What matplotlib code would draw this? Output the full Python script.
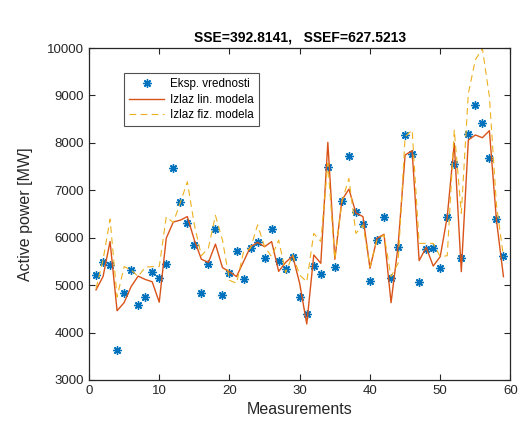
import numpy as np
import matplotlib
matplotlib.use("Agg")
import matplotlib.pyplot as plt

plt.rcParams['font.family'] = ['Liberation Sans', 'DejaVu Sans']

measurements = list(range(1, 60))

eksp = [5214, 5495, 5425, 3633, 4827, 5319, 4582, 4757, 5284, 5144,
        5439, 7477, 6759, 6303, 5846, 4841, 5439, 6177, 4792, 5263,
        5720, 5130, 5776, 5910, 5573, 6177, 5509, 5334, 5600, 4757,
        4392, 5411, 5229, 7498, 5376, 6781, 7723, 6549, 6282, 5094,
        5952, 6430, 5158, 5811, 8166, 7758, 5073, 5762, 5790, 5368,
        6430, 7554, 5566, 8180, 8798, 8412, 7688, 6388, 5615]

lin_model = [4900, 5180, 5920, 4460, 4630, 4970, 5190, 5120, 5070, 4640,
             5990, 6330, 6370, 6445, 5950, 5545, 5480, 5865, 5370, 5280,
             5180, 5495, 5810, 5900, 5810, 5917, 5290, 5480, 5615, 5030,
             4180, 5636, 5460, 8010, 5545, 6790, 7025, 6520, 6445, 5355,
             5986, 6072, 4630, 5825, 7744, 7836, 5516, 5797, 5403, 5600,
             6445, 7990, 5284, 8060, 8166, 8109, 8257, 6374, 5178]

fiz_model = [4930, 5530, 6390, 4750, 5390, 5320, 5180, 5380, 5390, 5390,
             6440, 6320, 6740, 7180, 6270, 5620, 5780, 6470, 5950, 5100,
             5040, 5700, 5780, 6270, 5810, 5600, 5950, 5260, 5640, 5210,
             5070, 6090, 5920, 7570, 5550, 6760, 7250, 6090, 6270, 5390,
             5950, 6060, 5180, 5460, 8130, 8270, 5880, 5880, 5880, 5600,
             5620, 8270, 6515, 9040, 9750, 9990, 8975, 6700, 5600]

x_ticks = [0, 10, 20, 30, 40, 50, 60]
y_ticks = [3000, 4000, 5000, 6000, 7000, 8000, 9000, 10000]

fig = plt.figure(figsize=(5.21, 4.25), dpi=100)
ax = fig.add_axes([0.1708, 0.106, 0.809, 0.781])

ax.plot(measurements, eksp, linestyle='none', marker=(8, 2, 0), markersize=6,
        markeredgewidth=1.0, color='#0072BD', label='Eksp. vrednosti')
ax.plot(measurements, lin_model, '-', color='#D95319', linewidth=1.0,
        label='Izlaz lin. modela')
ax.plot(measurements, fiz_model, '--', color='#EDB120', linewidth=0.8,
        dashes=(6, 4), label='Izlaz fiz. modela')

ax.set_xlim(0, 60)
ax.set_ylim(3000, 10000)
ax.set_xticks(x_ticks)
ax.set_yticks(y_ticks)
ax.tick_params(direction='in', top=True, right=True, labelsize=9.5,
               length=4, width=0.8, colors='#262626')
for s in ax.spines.values():
    s.set_linewidth(0.9)
    s.set_color('#262626')

ax.set_xlabel('Measurements', fontsize=11.5, color='#262626', labelpad=4)
ax.set_ylabel('Active power [MW]', fontsize=11.5, color='#262626', labelpad=10)
ax.set_title('SSE=392.8141,   SSEF=627.5213', fontsize=10, fontweight='bold',
             pad=5)

leg = ax.legend(loc='upper left', bbox_to_anchor=(0.083, 0.925), fontsize=8.4,
                frameon=True, fancybox=False, edgecolor='#262626',
                borderpad=0.45, handlelength=3.0, labelspacing=0.3,
                handletextpad=0.5, borderaxespad=0)
leg.get_frame().set_linewidth(0.8)

fig.savefig('out.png', dpi=100)
